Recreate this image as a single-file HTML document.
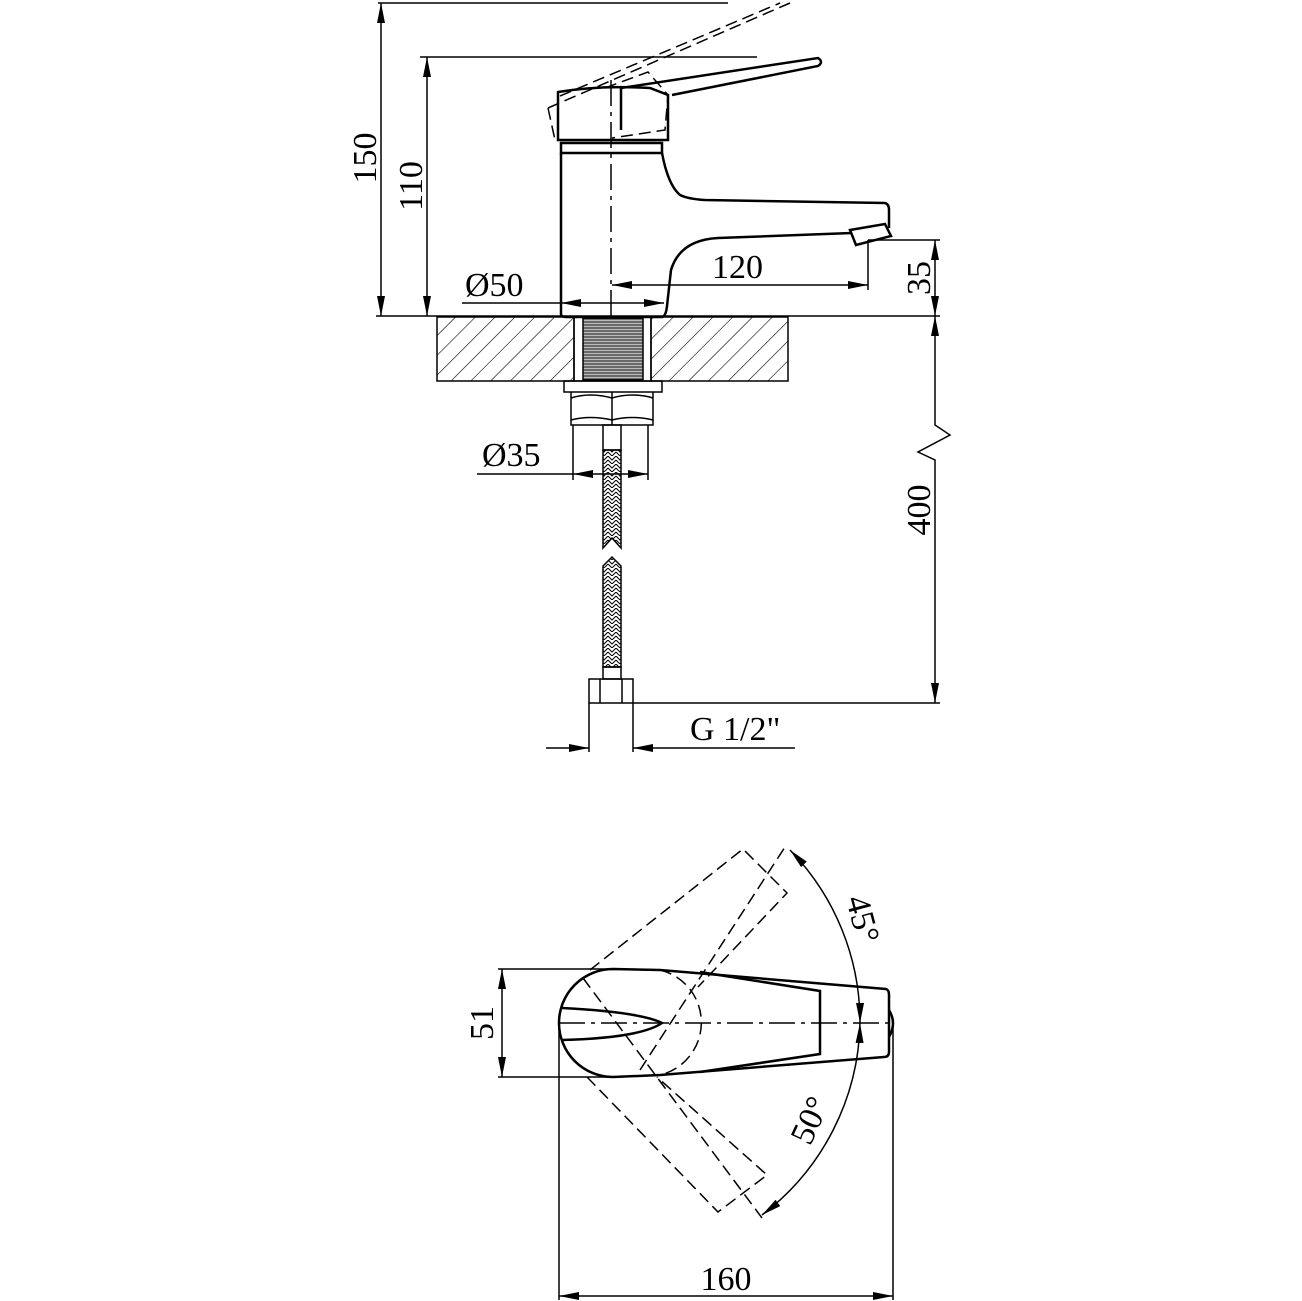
<!DOCTYPE html>
<html><head><meta charset="utf-8"><style>html,body{margin:0;padding:0;background:#fff}svg{display:block}text{font-family:"Liberation Serif",serif;font-size:34px;fill:#000}</style></head><body>
<svg width="1302" height="1301" viewBox="0 0 1302 1301" xmlns="http://www.w3.org/2000/svg">
<defs>
<marker id="a" viewBox="0 0 20 8" refX="20" refY="4" markerWidth="20" markerHeight="8" orient="auto-start-reverse" markerUnits="userSpaceOnUse"><path d="M0,0 L20,4 L0,8 z" fill="#000"/></marker>
<pattern id="h" width="14" height="14" patternUnits="userSpaceOnUse" patternTransform="rotate(45)"><line x1="0" y1="0" x2="0" y2="14" stroke="#000" stroke-width="1.2"/></pattern>
<pattern id="br" width="8" height="8" patternUnits="userSpaceOnUse"><path d="M0,0 L4,4 L8,0 M0,4 L4,8 L8,4" stroke="#000" fill="none" stroke-width="1"/></pattern>
<pattern id="th" width="4" height="3" patternUnits="userSpaceOnUse"><rect width="4" height="3" fill="#bbb"/><line x1="0" y1="1" x2="4" y2="1" stroke="#333" stroke-width="1.2"/></pattern>
</defs>
<g stroke="#000" fill="none" stroke-width="1.5">
<line x1="378" y1="3" x2="728" y2="3"/>
<line x1="381" y1="3" x2="381" y2="316" marker-start="url(#a)" marker-end="url(#a)"/>
<line x1="420" y1="57" x2="757" y2="57"/>
<line x1="427" y1="57" x2="427" y2="316" marker-start="url(#a)" marker-end="url(#a)"/>
<line x1="376" y1="316" x2="940" y2="316"/>
<g stroke-width="2.5">
<path d="M561,153 L561,314 Q561,317 566,317 L662,317 Q666,316 667,306 L671,270 Q680,240 718,238 L852,233"/>
<path d="M662,153 Q668,185 680,195 Q688,199 705,200 L885,203 Q889,204 889,210 L889,228"/>
<path d="M850,230 L885,224 L891,236 L856,245 Z"/>
<rect x="561" y="143" width="101" height="10"/>
<path d="M558,92 L558,140 L668,140 L668,95 L650,88 Q600,85 558,92 Z"/>
<path d="M621,88 L621,130 M621,88 L818,58 Q824,62 818,66 L672,95"/>
</g>
<g stroke-dasharray="12,6">
<path d="M548,108 L555,140 M548,108 L790,3 M560,96 L780,3 M605,88 L648,72 L668,95 L665,130 L612,138"/>
</g>
<line x1="611" y1="80" x2="611" y2="316" stroke-dasharray="26,6,4,6"/>
<line x1="462" y1="303" x2="561" y2="303"/>
<line x1="561" y1="303" x2="664" y2="303" marker-start="url(#a)" marker-end="url(#a)"/>
<line x1="868" y1="240" x2="868" y2="290"/>
<line x1="612" y1="285" x2="868" y2="285" marker-start="url(#a)" marker-end="url(#a)"/>
<line x1="868" y1="240" x2="940" y2="240"/>
<line x1="935" y1="240" x2="935" y2="316" marker-start="url(#a)" marker-end="url(#a)"/>
<line x1="935" y1="316" x2="935" y2="420" marker-start="url(#a)"/>
<path d="M935,420 L935,425 L950,435 L918,452 L935,460 L935,703" marker-end="url(#a)"/>
<line x1="633" y1="703" x2="940" y2="703"/>
<rect x="437" y="317" width="137" height="64" fill="url(#h)"/>
<rect x="651" y="317" width="137" height="64" fill="url(#h)"/>
<rect x="574" y="317" width="77" height="64"/>
<rect x="583" y="318" width="60" height="62" fill="url(#th)"/>
<rect x="564" y="381" width="98" height="11"/>
<path d="M571,392 L571,425 L653,425 L653,392 M612,392 L612,425 M571,398 Q590,392 612,398 Q632,392 653,398 M571,420 Q590,415 612,420 Q632,415 653,420"/>
<rect x="603" y="425" width="18" height="25"/>
<path d="M603,450 L603,548 L612,538 L621,548 L621,450 Z" fill="url(#br)"/>
<path d="M603,667 L603,566 L612,557 L621,566 L621,667 Z" fill="url(#br)"/>
<rect x="603" y="667" width="18" height="12"/>
<rect x="589" y="679" width="44" height="24"/>
<line x1="600" y1="679" x2="600" y2="703"/><line x1="622" y1="679" x2="622" y2="703"/>
<line x1="573" y1="425" x2="573" y2="480"/><line x1="648" y1="425" x2="648" y2="480"/>
<line x1="477" y1="474" x2="573" y2="474"/>
<line x1="573" y1="474" x2="648" y2="474" marker-start="url(#a)" marker-end="url(#a)"/>
<line x1="589" y1="703" x2="589" y2="752"/><line x1="633" y1="703" x2="633" y2="752"/>
<line x1="546" y1="748" x2="589" y2="748" marker-end="url(#a)"/>
<line x1="795" y1="748" x2="633" y2="748" marker-end="url(#a)"/>
<g stroke-width="2.5">
<path d="M613,969 L660,970 L886,989 Q889,990 889,995 L889,1052 Q889,1057 884,1057 L660,1075 L613,1077 A54,54 0 0 1 613,969 Z"/>
<path d="M700,972 L820,991 L820,1054 L700,1072"/>
<path d="M889,1010 Q897,1023 889,1037"/>
<path d="M562,1008 Q640,1012 662,1023 Q640,1038 562,1040"/>
</g>
<line x1="559" y1="1023" x2="892" y2="1023" stroke-dasharray="26,6,4,6"/>
<g stroke-dasharray="12,6">
<path d="M590,970 L743,849 L787,893 L698,987 M640,1070 L785,847 M587,1077 L718,1212 L767,1175 L657,1077 M583,978 L762,1218"/>
<path d="M660,970 A54,54 0 0 1 660,1075"/>
</g>
<path d="M790,850 A247,247 0 0 1 860,1023" marker-start="url(#a)" marker-end="url(#a)"/>
<path d="M860,1023 A247,247 0 0 1 762,1215" marker-start="url(#a)" marker-end="url(#a)"/>
<line x1="498" y1="969" x2="613" y2="969"/><line x1="498" y1="1077" x2="613" y2="1077"/>
<line x1="502" y1="969" x2="502" y2="1077" marker-start="url(#a)" marker-end="url(#a)"/>
<line x1="559" y1="1023" x2="559" y2="1300"/><line x1="893" y1="1023" x2="893" y2="1300"/>
<line x1="559" y1="1296" x2="893" y2="1296" marker-start="url(#a)" marker-end="url(#a)"/>
</g>
<text x="465" y="296">Ø50</text>
<text x="712" y="278">120</text>
<text x="482" y="466">Ø35</text>
<text x="690" y="740">G 1/2"</text>
<text transform="translate(376,158) rotate(-90)" text-anchor="middle">150</text>
<text transform="translate(422,186) rotate(-90)" text-anchor="middle">110</text>
<text transform="translate(930,278) rotate(-90)" text-anchor="middle">35</text>
<text transform="translate(930,510) rotate(-90)" text-anchor="middle">400</text>
<text transform="translate(493,1023) rotate(-90)" text-anchor="middle">51</text>
<text x="726" y="1290" text-anchor="middle">160</text>
<text transform="translate(852,922) rotate(75)" text-anchor="middle">45°</text>
<text transform="translate(820,1125) rotate(-65)" text-anchor="middle">50°</text>
</svg>
</body></html>
